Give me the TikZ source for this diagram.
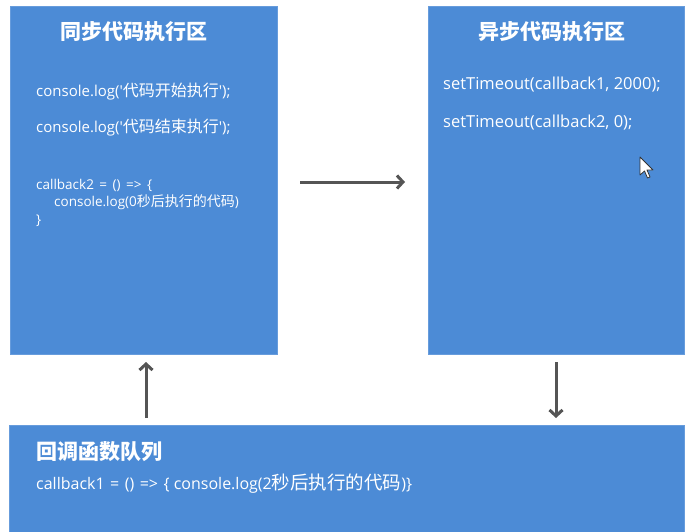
\documentclass[tikz,border=0pt]{standalone}
\usepackage{fontspec}
\setmainfont{Open Sans}
\newfontfamily\cjk{Noto Sans CJK SC}
\newcommand\cjs[2]{{\cjk\fontsize{#1}{#1}\selectfont #2}}
\newcommand\wsp{\hspace{5.5pt}}
\usetikzlibrary{arrows.meta}
\definecolor{boxblue}{RGB}{76,139,214}
\definecolor{arrgray}{RGB}{85,85,85}
\tikzset{
  panel/.style={fill=boxblue, draw=boxblue!85!white, line width=0.6pt},
  ttl/.style={anchor=center, text=white, font=\cjk\fontsize{21}{24}\selectfont\bfseries, inner sep=0pt},
  code/.style={anchor=west, text=white, font=\fontsize{15}{18}\selectfont, inner sep=0pt},
  smallcode/.style={anchor=north west, text=white, font=\fontsize{13.5}{17.5}\selectfont, inner sep=0pt, align=left},
  flow/.style={draw=arrgray, line width=3pt, -{Straight Barb[length=6pt,width=13pt,line width=3pt]}}
}
\begin{document}
\begin{tikzpicture}[x=1pt,y=-1pt]
\useasboundingbox (0,0) rectangle (693,532);
\fill[white] (0,0) rectangle (693,532);
% panels
\draw[panel] (10,6) rectangle (277,354);
\draw[panel] (428,6) rectangle (684,354);
\draw[panel] (9,425) rectangle (684,536);
\coordinate (syncS) at (146,362);
\coordinate (asyncS) at (556,362);
\coordinate (queueN1) at (146,418);
\coordinate (queueN2) at (556,418);
\coordinate (syncE) at (300,182);
\coordinate (asyncW) at (405,182);
% sync box
\node[ttl] (synct) at (134,32) {同步代码执行区};
\node[code] (c1) at (36,92) {console.log(\textquotesingle\cjs{16}{代码开始执行}\textquotesingle);};
\node[code] (c2) at (36,128) {console.log(\textquotesingle\cjs{16}{代码结束执行}\textquotesingle);};
\node[smallcode] (cb2) at (36,179) {callback2\wsp=\wsp()\wsp=>\wsp\{\\\hspace*{18pt}console.log(0\cjs{14}{秒后执行的代码})\\\}};
% async box
\node[ttl] (asynct) at (552,32) {异步代码执行区};
\node[code, font=\fontsize{16.5}{18}\selectfont] (s1) at (443,85) {setTimeout(callback1, 2000);};
\node[code, font=\fontsize{16.5}{18}\selectfont] (s2) at (443,123) {setTimeout(callback2, 0);};
% queue box
\node[ttl, anchor=west] (qt) at (36,452) {回调函数队列};
\node[code, font=\fontsize{16}{18}\selectfont] (q1) at (36,484) {callback1\wsp=\wsp()\wsp=>\wsp\{ console.log(2\cjs{18.5}{秒后执行的代码})\}};
% arrows
\draw[flow] (syncE) -- (asyncW);
\draw[flow] (asyncS) -- (queueN2);
\draw[flow] (queueN1) -- (syncS);
% mouse cursor
\draw[fill=white, draw=black!80, line width=0.8pt, line join=round]
  (640,157) -- (640,175) -- (644.5,171) -- (647.5,178) -- (650,177) -- (647,170) -- (653,170) -- cycle;
\end{tikzpicture}
\end{document}
